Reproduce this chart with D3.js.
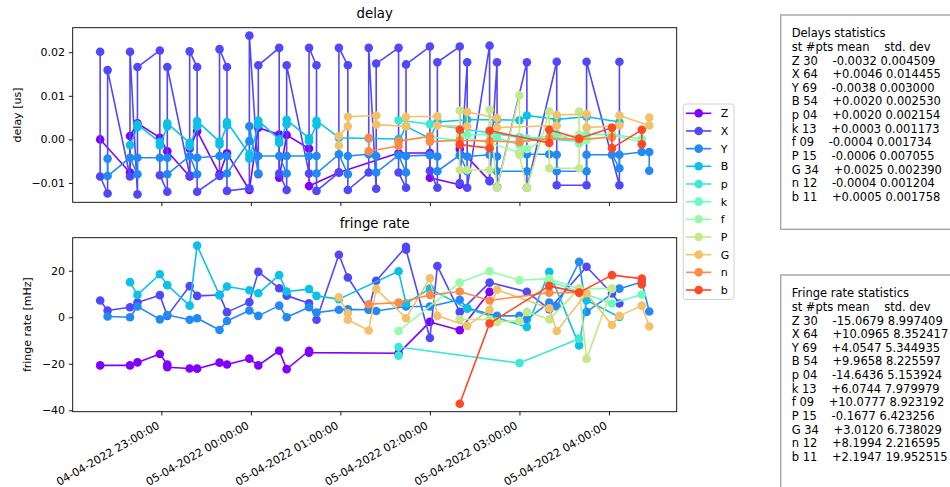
<!DOCTYPE html>
<html>
<head>
<meta charset="utf-8">
<script src="https://cdn.jsdelivr.net/npm/d3@7"></script>
<style>
  body { margin: 0; background: #fff; }
  svg { display: block; font-family: "DejaVu Sans", sans-serif; }
</style>
</head>
<body>
<svg id="fig" width="950" height="487"></svg>
<script>
// ---- stations and colours (matplotlib "rainbow", 12 steps) ----
const stations = ["Z", "X", "Y", "B", "p", "k", "f", "P", "G", "n", "b"];
const colors = ["#8000ff", "#5148fc", "#238af5", "#0cc1e8", "#3ae8d7", "#68fcc1",
                "#97fca7", "#c5e88a", "#f3c16a", "#ff8a48", "#ff4824"];

// ---- residual delays [us], per station, in observation order ----
const delayZ = [["22:19",0.0000],["22:39",-0.0076],["22:39",0.0008],["22:44",0.0037],["22:59",0.0004],
  ["23:04",-0.0027],["23:19",-0.0085],["23:19",-0.0021],["23:24",0.0019],["23:39",-0.0080],["23:44",-0.0032],
  ["23:59",-0.0116],["00:05",0.0027],["00:19",0.0011],["00:19",-0.0088],["00:24",0.0010],["00:39",-0.0021],
  ["00:39",-0.0107],["00:59",-0.0076],["01:39",-0.0031],["02:00",-0.0031],["02:00",-0.0088],
  ["02:20",-0.0104],["02:20",-0.0022],["02:40",-0.0095]];
const delayX = [
  ["22:19",0.0201],["22:19",-0.0085],["22:24",-0.0124],["22:24",0.0159],
  ["22:39",-0.0085],["22:39",0.0201],["22:44",-0.0126],["22:44",0.0166],
  ["22:59",0.0204],["22:59",-0.0082],["23:04",-0.0120],["23:04",0.0166],
  ["23:19",-0.0082],["23:19",0.0202],["23:24",0.0166],["23:24",-0.0120],
  ["23:39",-0.0084],["23:39",0.0207],["23:44",0.0166],["23:44",-0.0118],
  ["23:59",-0.0112],["23:59",0.0238],["00:05",-0.0080],["00:05",0.0170],
  ["00:19",0.0210],["00:19",-0.0078],["00:24",-0.0116],["00:24",0.0170],
  ["00:39",-0.0078],["00:39",0.0210],["00:44",0.0170],["00:44",-0.0118],
  ["00:59",-0.0076],["00:59",0.0210],["01:05",0.0170],["01:05",-0.0116],
  ["01:19",-0.0076],["01:19",0.0210],["01:24",-0.0113],["01:24",0.0174],
  ["01:39",0.0210],["01:39",-0.0076],["01:44",-0.0111],["01:44",0.0172],
  ["02:00",0.0213],["02:00",-0.0072],["02:05",-0.0111],["02:05",0.0177],
  ["02:20",0.0213],["02:20",-0.0100],["02:25",0.0177],["02:25",-0.0111],
  ["02:40",0.0215],["02:40",-0.0096],["02:45",0.0177],["02:45",-0.0110],
  ["03:05",0.0177],["03:05",-0.0111],["03:25",0.0178],["03:25",-0.0105],
  ["03:45",-0.0105],["03:45",0.0178],["04:07",-0.0105],["04:07",0.0178]];
const delayY = [["22:24",-0.0044],["22:24",-0.0084],["22:39",-0.0042],["22:44",-0.0080],["22:44",-0.0042],
  ["22:59",-0.0042],["23:04",-0.0042],["23:04",-0.0080],["23:19",-0.0038],["23:24",-0.0080],["23:24",-0.0042],
  ["23:39",-0.0038],["23:44",-0.0038],["23:44",-0.0078],["23:59",-0.0004],["23:59",0.0030],["00:05",-0.0078],
  ["00:05",-0.0038],["00:19",-0.0038],["00:24",-0.0078],["00:24",-0.0038],["00:39",-0.0038],["00:44",-0.0038],
  ["00:44",-0.0078],["00:59",-0.0034],["01:05",-0.0080],["01:05",-0.0038],["01:19",-0.0034],["01:24",-0.0038],
  ["01:24",-0.0076],["01:39",-0.0036],["01:44",-0.0076],["01:44",-0.0038],["02:00",-0.0036],["02:05",-0.0039],
  ["02:05",-0.0073],["02:20",-0.0036],["02:25",-0.0073],["02:25",-0.0039],["02:40",-0.0035],["02:45",-0.0039],
  ["02:45",-0.0073],["03:05",-0.0073],["03:05",-0.0034],["03:20",-0.0034],["03:25",-0.0035],["03:25",-0.0073],
  ["03:45",-0.0073],["03:45",-0.0035],["04:02",-0.0035],["04:07",-0.0066],["04:07",-0.0035],["04:22",-0.0029],
  ["04:27",-0.0029],["04:27",-0.0072]];
const delayB = [["22:39",-0.0013],["22:44",0.0028],["22:44",0.0034],["22:59",-0.0006],["22:59",-0.0014],
  ["23:04",0.0030],["23:04",0.0037],["23:19",-0.0008],["23:19",-0.0016],["23:24",0.0030],["23:24",0.0042],
  ["23:39",-0.0005],["23:39",-0.0012],["23:44",0.0032],["23:44",0.0040],["23:59",-0.0034],["23:59",-0.0044],
  ["00:05",0.0033],["00:05",0.0043],["00:19",0.0000],["00:19",-0.0008],["00:24",0.0035],["00:24",0.0045],
  ["00:39",0.0003],["00:39",-0.0004],["00:44",0.0033],["00:44",0.0043],["00:59",0.0004],["01:19",0.0002],
  ["01:39",0.0001],["01:39",-0.0005],["01:44",0.0030],["02:00",0.0002],["02:05",0.0040],["02:25",0.0045],
  ["02:45",0.0045],["03:00",0.0044],["03:05",0.0055],["03:25",0.0046],["03:45",0.0052],["04:07",0.0040]];
const delayp = [["01:39",0.0044],["02:00",0.0035],["03:00",0.0005],["03:40",-0.0004]];
const delayk = [["02:00",0.0006],["02:20",-0.0003],["02:25",0.0010],["02:40",0.0012],["02:45",0.0003],
  ["03:00",-0.0012],["03:05",0.0002],["03:20",0.0008],["03:25",0.0013],["03:40",-0.0009],["03:45",0.0011],
  ["04:02",0.0012],["04:22",0.0001]];
const delayf = [["02:20",0.0008],["02:40",-0.0008],["03:00",-0.0030],["03:05",-0.0022],["03:20",0.0004],
  ["03:40",0.0010],["03:45",-0.0002],["04:02",0.0009],["04:22",-0.0006]];
const delayP = [["02:20",0.0066],["02:20",-0.0070],["02:25",-0.0070],["02:40",-0.0070],["02:40",0.0068],
  ["02:45",-0.0111],["03:00",0.0101],["03:00",-0.0035],["03:05",-0.0111],["03:20",0.0064],["03:20",-0.0066],
  ["03:40",-0.0066],["03:40",0.0064]];
const delayG = [["00:59",-0.0014],["00:59",0.0008],["01:05",0.0030],["01:05",0.0052],["01:24",0.0055],
  ["01:24",0.0034],["01:44",0.0030],["01:44",0.0052],["02:05",0.0053],["02:05",0.0032],["02:25",0.0030],
  ["02:25",0.0063],["02:45",0.0049],["02:45",0.0027],["03:25",0.0032],["03:25",0.0056],["03:45",0.0058],
  ["03:45",0.0027],["04:07",0.0032],["04:07",0.0055],["04:27",0.0032],["04:27",0.0050]];
const delayn = [["01:19",0.0004],["01:19",-0.0027],["01:39",-0.0015],["01:39",-0.0004],["02:00",0.0007],
  ["02:00",-0.0005],["02:20",-0.0002],["02:40",-0.0004],["03:00",-0.0006],["03:20",0.0003],["03:40",0.0000],
  ["04:02",0.0005]];
const delayb = [["02:20",0.0022],["02:20",-0.0012],["02:40",-0.0020],["02:40",0.0020],["03:20",-0.0008],
  ["03:20",0.0022],["03:40",0.0002],["04:02",0.0027],["04:02",-0.0020],["04:22",0.0022],["04:22",-0.0011]];

// ---- residual fringe rates [mHz] ----
const rateZ = [["22:19",-20.7],["22:39",-20.7],["22:44",-19.4],["22:59",-15.8],["23:04",-20.3],["23:04",-21.5],
  ["23:19",-22.0],["23:24",-22.1],["23:39",-19.5],["23:44",-20.3],["23:59",-17.8],["00:05",-20.7],["00:19",-14.4],
  ["00:24",-22.3],["00:39",-14.4],["00:39",-15.2],["01:39",-15.5],["02:00",-2.0],["02:20",-5.6],["02:40",10.9]];
const rateX = [["22:19",7.2],["22:24",2.9],["22:39",4.3],["22:44",6.3],["22:59",9.5],["23:04",0.6],["23:19",13.4],
  ["23:24",9.2],["23:39",9.6],["23:44",2.2],["23:59",6.5],["00:05",19.5],["00:19",12.5],["00:24",9.3],["00:39",6.0],
  ["00:44",-1.1],["00:59",26.9],["01:05",17.1],["01:19",3.4],["01:24",15.7],["01:44",30.3],["01:44",29.0],
  ["02:00",-8.9],["02:05",22.0],["02:20",2.3],["02:40",14.9],["03:05",10.9],["03:20",3.5],["03:45",21.7],
  ["04:02",10.2],["04:07",5.9]];
const rateY = [["22:24",0.3],["22:39",0.0],["22:44",4.6],["22:59",-0.9],["23:04",1.0],["23:19",-1.1],["23:24",-0.4],
  ["23:39",-5.5],["23:44",-1.6],["23:59",2.9],["00:05",0.6],["00:19",5.0],["00:24",0.0],["00:39",4.3],["00:44",2.0],
  ["00:59",3.2],["01:05",3.4],["01:19",3.2],["01:24",2.7],["01:44",4.6],["02:00",4.6],["02:20",7.5],["02:25",3.9],
  ["02:45",0.6],["03:00",0.6],["03:05",-0.9],["03:20",6.3],["03:25",4.6],["03:40",23.8],["03:45",2.3],
  ["04:07",12.3],["04:22",15.2],["04:27",2.5]];
const rateB = [["22:39",15.1],["22:44",9.6],["22:59",18.5],["23:04",13.8],["23:19",5.0],["23:24",30.8],["23:39",9.5],
  ["23:44",13.2],["23:59",11.6],["00:05",10.3],["00:19",18.1],["00:24",11.1],["00:39",12.1],["00:44",9.2],
  ["00:59",7.8],["01:39",19.8],["01:44",5.9],["02:00",12.3],["02:25",3.7],["03:05",-4.2],["03:20",19.5],
  ["03:40",-12.1],["03:45",7.3],["04:07",0.1]];
const ratep = [["01:39",-16.5],["01:39",-12.8],["03:00",-19.7],["03:40",-9.2]];
const ratek = [["03:20",15.5],["03:40",11.0],["04:02",5.9],["04:22",9.8]];
const ratef = [["01:39",-5.9],["02:20",14.9],["02:40",19.8],["03:00",15.9],["03:20",16.6],["03:40",12.3],["04:02",12.3]];
const rateP = [["02:20",-0.9],["02:40",-1.0],["02:45",-2.0],["03:00",-1.5],["03:05",2.3],["03:20",-0.9],
  ["03:40",12.3],["03:45",-17.9],["04:02",12.3]];
const rateG = [["00:59",8.6],["01:05",1.7],["01:05",-1.1],["01:19",-5.7],["01:24",12.2],["01:44",-0.4],["02:00",16.8],
  ["02:05",0.6],["02:25",-3.7],["02:40",3.2],["02:45",11.8],["03:20",3.9],["03:25",-5.9],["03:45",10.3],
  ["04:02",-3.3],["04:07",0.6],["04:22",5.0],["04:27",-4.0]];
const raten = [["01:19",5.6],["01:39",6.3],["02:00",9.6],["02:20",11.1],["02:40",7.2],["03:20",10.6],["03:40",10.6]];
const rateb = [["02:20",-37.2],["02:40",-2.7],["03:20",13.5],["03:40",10.6],["04:02",18.1],["04:22",16.6],["04:22",14.1]];

// ---- summary statistics per station ----
const statCount  = ["30", "64", "69", "54", "04", "13", "09", "15", "34", "12", "11"];
const delayMean  = ["-0.0032","+0.0046","-0.0038","+0.0020","+0.0020","+0.0003","-0.0004","-0.0006","+0.0025","-0.0004","+0.0005"];
const delayStd   = ["0.004509","0.014455","0.003000","0.002530","0.002154","0.001173","0.001734","0.007055","0.002390","0.001204","0.001758"];
const rateMean   = ["-15.0679","+10.0965","+4.0547","+9.9658","-14.6436","+6.0744","+10.0777","-0.1677","+3.0120","+8.1994","+2.1947"];
const rateStd    = ["8.997409","8.352417","5.344935","8.225597","5.153924","7.979979","8.923192","6.423256","6.738029","2.216595","19.952515"];

const hourTicks = ["23:00", "00:00", "01:00", "02:00", "03:00", "04:00"];
const delayTicks = [-0.01, 0.00, 0.01, 0.02];
const rateTicks = [-40, -20, 0, 20];

// ---- helpers ----
const parseT = s => {
  const [h, m] = s.split(":").map(Number);
  return new Date(Date.UTC(2022, 3, h >= 12 ? 4 : 5, h, m));
};
const delaySeries = [delayZ, delayX, delayY, delayB, delayp, delayk, delayf, delayP, delayG, delayn, delayb];
const rateSeries  = [rateZ, rateX, rateY, rateB, ratep, ratek, ratef, rateP, rateG, raten, rateb];

const svg = d3.select("#fig");
const FS = 11;
const R = 4.3;

const ax = { left: 72.7, right: 676.7 };
const panels = [
  { top: 27.7, bottom: 202.3, series: delaySeries, ticks: delayTicks, fmt: d3.format(".2f"),
    title: "delay", ylabel: "delay [us]", ylabX: 17, xlabels: false },
  { top: 237.7, bottom: 411.7, series: rateSeries, ticks: rateTicks, fmt: d3.format("d"),
    title: "fringe rate", ylabel: "fringe rate [mHz]", ylabX: 27.5, xlabels: true }
];

// shared time axis with 5% margins around the data
const allTimes = delaySeries.concat(rateSeries).flat().map(d => parseT(d[0]));
const [t0, t1] = d3.extent(allTimes);
const tpad = (t1 - t0) * 0.05;
const x = d3.scaleUtc()
  .domain([new Date(+t0 - tpad), new Date(+t1 + tpad)])
  .range([ax.left, ax.right]);
const fmtTime = d3.utcFormat("%d-%m-%Y %H:%M:%S");

panels.forEach(pn => {
  const vals = pn.series.flat().map(d => d[1]);
  const [v0, v1] = d3.extent(vals);
  const vpad = (v1 - v0) * 0.05;
  const y = d3.scaleLinear().domain([v0 - vpad, v1 + vpad]).range([pn.bottom, pn.top]);

  const g = svg.append("g");

  // data: one polyline with circle markers per station
  const line = d3.line().x(d => x(parseT(d[0]))).y(d => y(d[1]));
  pn.series.forEach((s, i) => {
    const sg = g.append("g");
    sg.append("path").datum(s)
      .attr("d", line)
      .attr("fill", "none")
      .attr("stroke", colors[i])
      .attr("stroke-width", 1.6)
      .attr("stroke-linejoin", "round");
    sg.selectAll("circle").data(s).join("circle")
      .attr("cx", d => x(parseT(d[0])))
      .attr("cy", d => y(d[1]))
      .attr("r", R)
      .attr("fill", colors[i]);
  });

  // y axis
  const yAxis = d3.axisLeft(y).tickValues(pn.ticks).tickFormat(pn.fmt).tickSize(3.8).tickPadding(3.8);
  const gy = g.append("g").attr("transform", `translate(${ax.left},0)`).call(yAxis);
  gy.select(".domain").remove();
  gy.selectAll(".tick line").attr("stroke", "#000").attr("stroke-width", 0.9);
  gy.selectAll(".tick text").attr("font-size", FS).attr("fill", "#000")
    .attr("font-family", "DejaVu Sans");

  // x axis
  const xAxis = d3.axisBottom(x).tickValues(hourTicks.map(parseT)).tickSize(3.8)
    .tickFormat(pn.xlabels ? fmtTime : "");
  const gx = g.append("g").attr("transform", `translate(0,${pn.bottom})`).call(xAxis);
  gx.select(".domain").remove();
  gx.selectAll(".tick line").attr("stroke", "#000").attr("stroke-width", 0.9);
  gx.selectAll(".tick text")
    .attr("font-size", FS).attr("fill", "#000").attr("font-family", "DejaVu Sans")
    .attr("y", null).attr("dy", null)
    .attr("text-anchor", "end")
    .attr("transform", "translate(-1.5,16) rotate(-30)");

  // frame
  g.append("rect")
    .attr("x", ax.left).attr("y", pn.top)
    .attr("width", ax.right - ax.left).attr("height", pn.bottom - pn.top)
    .attr("fill", "none").attr("stroke", "#000").attr("stroke-width", 0.9);

  // title and y label
  g.append("text")
    .attr("x", (ax.left + ax.right) / 2).attr("y", pn.top - 9.3)
    .attr("text-anchor", "middle").attr("font-size", 13.3).attr("fill", "#000")
    .text(pn.title);
  g.append("text")
    .attr("transform", `translate(${pn.ylabX},${(pn.top + pn.bottom) / 2}) rotate(-90)`)
    .attr("text-anchor", "middle").attr("dy", "0.35em")
    .attr("font-size", FS).attr("fill", "#000")
    .text(pn.ylabel);
});

// ---- legend ----
const lg = svg.append("g");
lg.append("rect")
  .attr("x", 683.3).attr("y", 104).attr("width", 50.7).attr("height", 195.5)
  .attr("rx", 2.5).attr("fill", "#fff").attr("fill-opacity", 0.8)
  .attr("stroke", "#cccccc").attr("stroke-width", 0.9);
stations.forEach((st, i) => {
  const cy = 113.3 + i * 17.67;
  lg.append("line").attr("x1", 686).attr("x2", 711.3).attr("y1", cy).attr("y2", cy)
    .attr("stroke", colors[i]).attr("stroke-width", 1.6);
  lg.append("circle").attr("cx", 698.7).attr("cy", cy).attr("r", R).attr("fill", colors[i]);
  lg.append("text").attr("x", 720.7).attr("y", cy).attr("dy", "0.36em")
    .attr("font-size", FS).attr("fill", "#000").text(st);
});

// ---- statistics boxes ----
function statLine(i, mean, std) {
  return `${stations[i]} ${statCount[i]}    ${mean} ${std}`;
}
function statBox(top, height, heading, means, stds) {
  const bg = svg.append("g");
  bg.append("rect")
    .attr("x", 780.7).attr("y", top).attr("width", 200).attr("height", height)
    .attr("fill", "#fff").attr("stroke", "#a6a6a6").attr("stroke-width", 1.4);
  const lines = [heading, "st #pts mean    std. dev"]
    .concat(stations.map((s, i) => statLine(i, means[i], stds[i])));
  lines.forEach((t, j) => {
    bg.append("text")
      .attr("x", 791.7).attr("y", top + 22.3 + j * 13.62)
      .attr("font-size", 11.5).attr("fill", "#000")
      .style("white-space", "pre")
      .text(t);
  });
}
statBox(15, 214.3, "Delays statistics", delayMean, delayStd);
statBox(275, 260, "Fringe rate statistics", rateMean, rateStd);
</script>
</body>
</html>
